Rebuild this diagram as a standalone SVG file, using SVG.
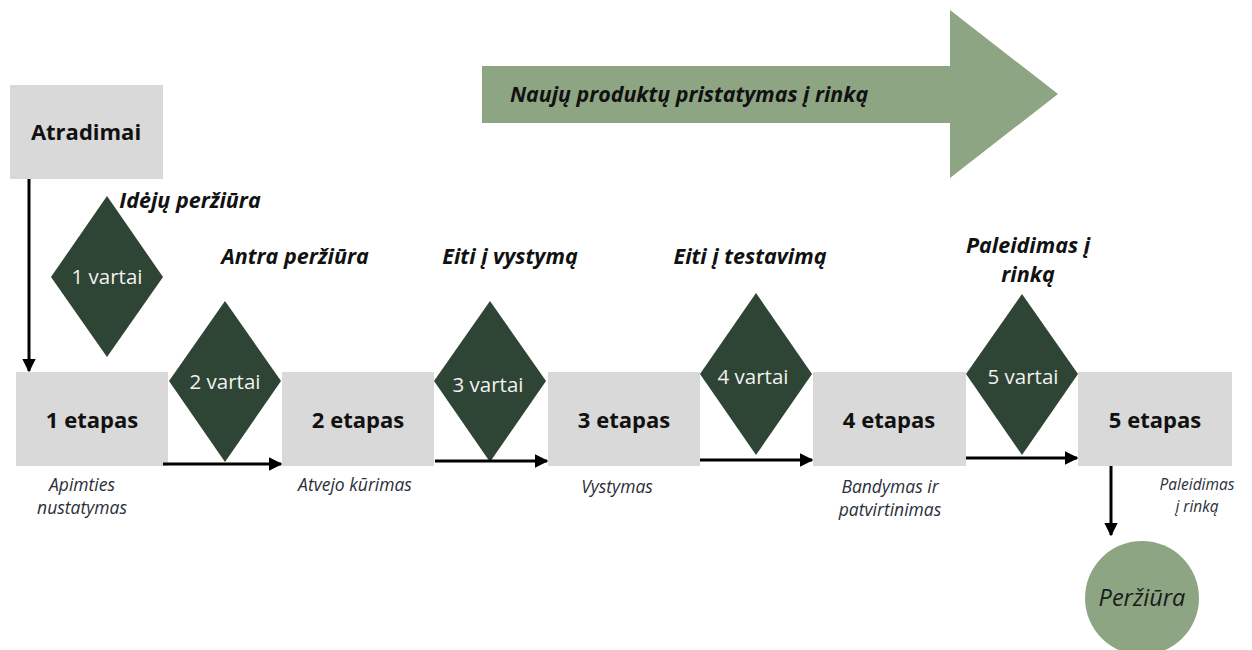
<svg xmlns="http://www.w3.org/2000/svg" width="1252" height="650" viewBox="0 0 1252 650">
<defs>
<style>
.box{fill:#d9d9d9}
.gate{fill:#2e4434}
.green{fill:#8da583}
.t{font-family:"Open Sans","Noto Sans",sans-serif;text-anchor:middle}
.stage{font-size:22px;font-weight:bold;fill:#111}
.gtxt{font-size:20.5px;fill:#f2f2f2}
.lbl{font-size:21.5px;font-weight:bold;font-style:italic;fill:#111}
.desc{font-size:17.5px;font-style:italic;fill:#2a2f3a}
.conn{stroke:#000;stroke-width:3;fill:none}
</style>
<marker id="ah" viewBox="0 0 10 10" refX="9" refY="5" markerWidth="4.5" markerHeight="4.5" orient="auto" markerUnits="strokeWidth">
<path d="M0,0 L10,5 L0,10 z" fill="#000"/>
</marker>
</defs>
<rect width="1252" height="650" fill="#fff"/>

<g id="big-arrow">
<polygon class="green" points="482,66 950,66 950,10 1058,94 950,178 950,123 482,123"/>
<text class="t lbl" x="689" y="102" style="font-size:21.4px">Naujų produktų pristatymas į rinką</text>
</g>

<g id="atradimai">
<rect class="box" x="10" y="85" width="153" height="94"/>
<text class="t stage" x="86" y="140">Atradimai</text>
</g>

<g id="stage1">
<rect class="box" x="16" y="372" width="152" height="94"/>
<text class="t stage" x="92" y="428">1 etapas</text>
<text class="t desc" x="82" y="491">Apimties</text>
<text class="t desc" x="82" y="514">nustatymas</text>
</g>
<g id="stage2">
<rect class="box" x="282" y="372" width="152" height="94"/>
<text class="t stage" x="358" y="428">2 etapas</text>
<text class="t desc" x="355" y="491">Atvejo kūrimas</text>
</g>
<g id="stage3">
<rect class="box" x="548" y="372" width="152" height="94"/>
<text class="t stage" x="624" y="428">3 etapas</text>
<text class="t desc" x="617" y="493">Vystymas</text>
</g>
<g id="stage4">
<rect class="box" x="813" y="372" width="153" height="94"/>
<text class="t stage" x="889" y="428">4 etapas</text>
<text class="t desc" x="890" y="493">Bandymas ir</text>
<text class="t desc" x="890" y="516">patvirtinimas</text>
</g>
<g id="stage5">
<rect class="box" x="1078" y="372" width="154" height="94"/>
<text class="t stage" x="1155" y="428">5 etapas</text>
<text class="t desc" x="1197" y="490" style="font-size:15.5px">Paleidimas</text>
<text class="t desc" x="1197" y="512" style="font-size:15.5px">į rinką</text>
</g>

<g id="gate1">
<polygon class="gate" points="107,196 163,277 107,357 51,277"/>
<text class="t gtxt" x="107" y="284">1 vartai</text>
<text class="t lbl" x="190" y="208">Idėjų peržiūra</text>
</g>
<g id="gate2">
<polygon class="gate" points="225,301 281,381 225,462 169,381"/>
<text class="t gtxt" x="225" y="389">2 vartai</text>
<text class="t lbl" x="295" y="264">Antra peržiūra</text>
</g>
<g id="gate3">
<polygon class="gate" points="490,301 546,381 490,462 434,381"/>
<text class="t gtxt" x="488" y="392">3 vartai</text>
<text class="t lbl" x="510" y="264">Eiti į vystymą</text>
</g>
<g id="gate4">
<polygon class="gate" points="756,293 812,374 756,455 700,374"/>
<text class="t gtxt" x="753" y="384">4 vartai</text>
<text class="t lbl" x="750" y="264">Eiti į testavimą</text>
</g>
<g id="gate5">
<polygon class="gate" points="1022,294 1078,374 1022,455 966,374"/>
<text class="t gtxt" x="1023" y="384">5 vartai</text>
<text class="t lbl" x="1028" y="253">Paleidimas į</text>
<text class="t lbl" x="1028" y="282">rinką</text>
</g>

<g id="perziura">
<circle class="green" cx="1142" cy="598" r="57"/>
<text class="t" x="1142" y="606" style="font-size:23.5px;font-style:italic;fill:#1a1a1a">Peržiūra</text>
</g>

<g id="connectors">
<line class="conn" x1="29" y1="179" x2="29" y2="371" marker-end="url(#ah)"/>
<line class="conn" x1="163" y1="464" x2="281" y2="464" marker-end="url(#ah)"/>
<line class="conn" x1="435" y1="461" x2="547" y2="461" marker-end="url(#ah)"/>
<line class="conn" x1="700" y1="460" x2="812" y2="460" marker-end="url(#ah)"/>
<line class="conn" x1="966" y1="458" x2="1077" y2="458" marker-end="url(#ah)"/>
<line class="conn" x1="1111" y1="466" x2="1111" y2="535" marker-end="url(#ah)"/>
</g>
</svg>
